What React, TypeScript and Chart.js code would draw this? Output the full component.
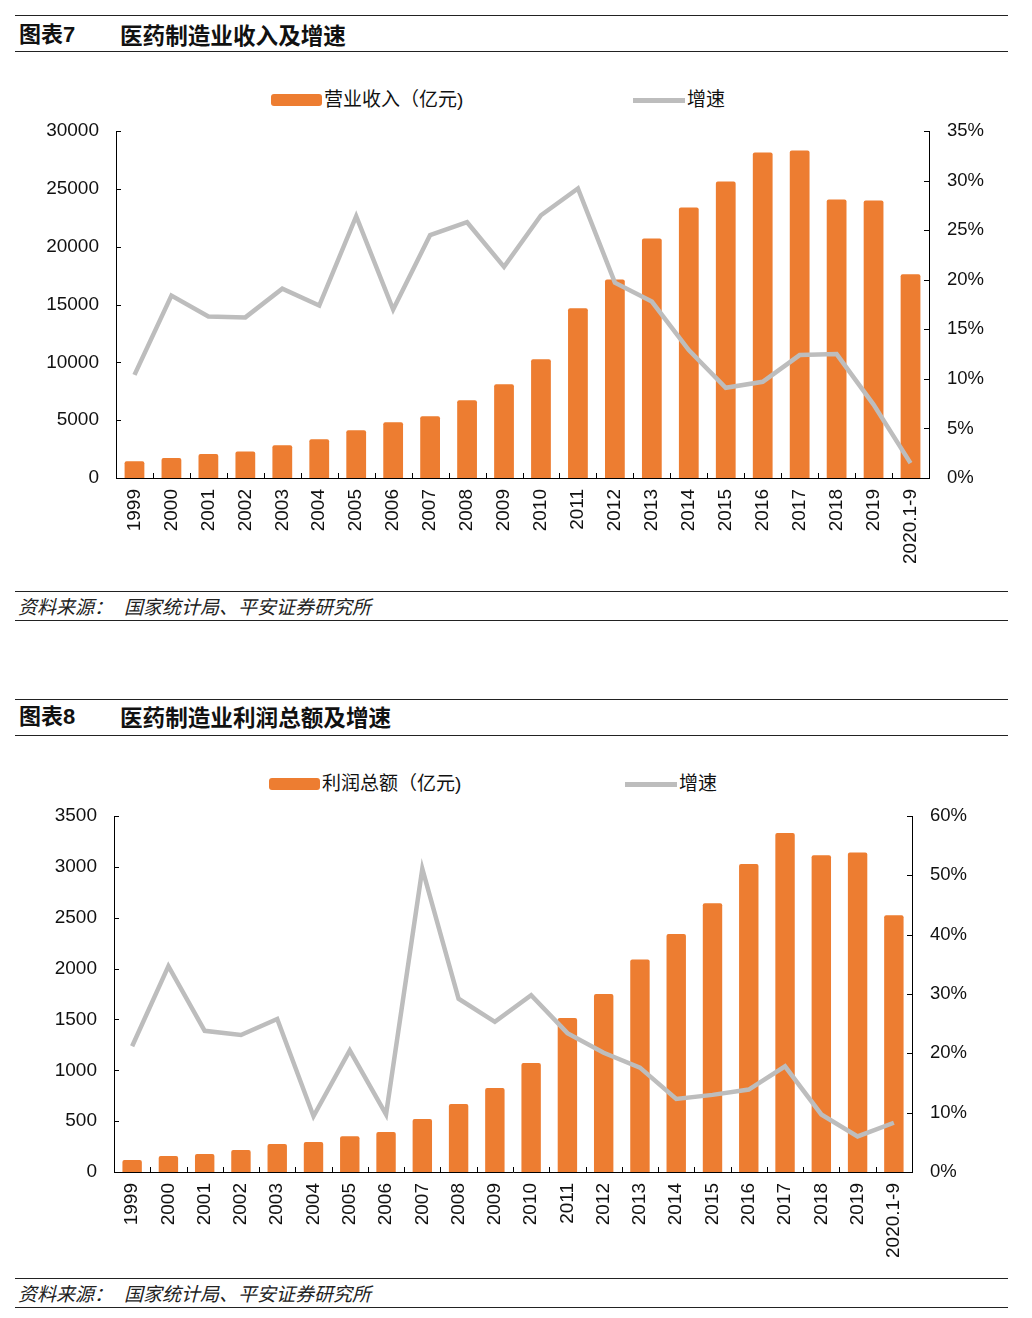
import React, { useEffect, useRef } from 'react';
import { Chart, registerables } from 'chart.js';

Chart.register(...registerables);

const years = ['1999', '2000', '2001', '2002', '2003', '2004', '2005', '2006', '2007', '2008', '2009', '2010', '2011', '2012', '2013', '2014', '2015', '2016', '2017', '2018', '2019', '2020.1-9'];

const revenue = [1440, 1730, 2070, 2300, 2825, 3345, 4120, 4810, 5330, 6715, 8095, 10260, 14665, 17170, 20715, 23395, 25640, 28150, 28320, 24085, 24000, 17605];
const revenueGrowth = [10.4, 18.4, 16.3, 16.2, 19.1, 17.4, 26.4, 17.0, 24.5, 25.8, 21.3, 26.5, 29.2, 19.7, 17.8, 12.9, 9.1, 9.7, 12.4, 12.5, 7.4, 1.5];

const profit = [118, 157, 177, 216, 275, 295, 351, 393, 521, 668, 826, 1071, 1514, 1750, 2090, 2340, 2641, 3028, 3333, 3113, 3142, 2523];
const profitGrowth = [21.2, 34.7, 23.8, 23.1, 25.8, 9.4, 20.5, 9.7, 51.1, 29.2, 25.3, 29.8, 23.4, 20.1, 17.6, 12.3, 13.0, 13.9, 17.8, 9.7, 6.0, 8.3];

const revenueAxis = [0, 30000, 5000];
const revenueGrowthAxis = [0, 35, 5];
const profitAxis = [0, 3500, 500];
const profitGrowthAxis = [0, 60, 10];

const ORANGE = '#ED7D31';
const GRAY = '#BDBDBD';
const NUM_FONT = '"Liberation Sans", Arial, sans-serif';
const CJK_FONT = '"Liberation Sans", "Noto Sans CJK SC", sans-serif';

const inwardTicks = {
  id: 'inwardTicks',
  afterDraw(chart: any) {
    const ctx = chart.ctx;
    const { x, y, y1 } = chart.scales;
    ctx.save();
    ctx.strokeStyle = '#000';
    ctx.lineWidth = 1;
    ctx.beginPath();
    y.ticks.forEach((t: any) => {
      const p = Math.round(y.getPixelForValue(t.value)) + 0.5;
      ctx.moveTo(y.right, p);
      ctx.lineTo(y.right + 5, p);
    });
    y1.ticks.forEach((t: any) => {
      const p = Math.round(y1.getPixelForValue(t.value)) + 0.5;
      ctx.moveTo(y1.left, p);
      ctx.lineTo(y1.left - 5, p);
    });
    const n = x.ticks.length;
    const w = (x.right - x.left) / n;
    for (let i = 1; i < n; i++) {
      const px = Math.round(x.left + i * w) + 0.5;
      ctx.moveTo(px, x.top);
      ctx.lineTo(px, x.top - 5);
    }
    ctx.stroke();
    ctx.restore();
  },
};

function makeConfig(
  bars: number[],
  growth: number[],
  leftAxis: number[],
  rightAxis: number[],
  leftWidth: number,
  rightWidth: number,
  padTop: number,
  padBottom: number,
  barPct: number
): any {
  return {
    type: 'bar',
    data: {
      labels: years,
      datasets: [
        {
          type: 'line',
          data: growth,
          yAxisID: 'y1',
          borderColor: GRAY,
          backgroundColor: GRAY,
          borderWidth: 4.5,
          pointRadius: 0,
          tension: 0,
          order: 0,
        },
        {
          type: 'bar',
          data: bars,
          yAxisID: 'y',
          backgroundColor: ORANGE,
          borderWidth: 0,
          borderRadius: 2,
          borderSkipped: 'bottom',
          barPercentage: barPct,
          categoryPercentage: 1,
          order: 1,
        },
      ],
    },
    options: {
      responsive: false,
      animation: false,
      layout: { padding: { top: padTop, bottom: padBottom, left: 0, right: 0 } },
      plugins: { legend: { display: false }, tooltip: { enabled: false } },
      scales: {
        x: {
          offset: true,
          grid: { display: false, drawTicks: false },
          border: { display: true, color: '#000', width: 1 },
          ticks: {
            autoSkip: false,
            minRotation: 90,
            maxRotation: 90,
            padding: 11,
            color: '#111',
            font: { family: NUM_FONT, size: 19 },
          },
          afterFit: (s: any) => {
            s.height = 95;
          },
        },
        y: {
          position: 'left',
          min: leftAxis[0],
          max: leftAxis[1],
          grid: { display: false, drawTicks: false },
          border: { display: true, color: '#000', width: 1 },
          ticks: {
            stepSize: leftAxis[2],
            padding: 17,
            color: '#111',
            font: { family: NUM_FONT, size: 19 },
            callback: (v: any) => String(v),
          },
          afterFit: (s: any) => {
            s.width = leftWidth;
            s.paddingTop = 0;
            s.paddingBottom = 0;
          },
        },
        y1: {
          position: 'right',
          min: rightAxis[0],
          max: rightAxis[1],
          grid: { display: false, drawTicks: false },
          border: { display: true, color: '#000', width: 1 },
          ticks: {
            stepSize: rightAxis[2],
            padding: 18,
            color: '#111',
            font: { family: NUM_FONT, size: 18.5 },
            callback: (v: any) => v + '%',
          },
          afterFit: (s: any) => {
            s.width = rightWidth;
            s.paddingTop = 0;
            s.paddingBottom = 0;
          },
        },
      },
    },
    plugins: [inwardTicks],
  };
}

function ChartCanvas({ config, width, height, top }: { config: any; width: number; height: number; top: number }) {
  const ref = useRef<HTMLCanvasElement | null>(null);
  useEffect(() => {
    if (!ref.current) return;
    const chart = new Chart(ref.current, config);
    return () => chart.destroy();
  }, [config]);
  return (
    <canvas
      ref={ref}
      width={width}
      height={height}
      style={{ position: 'absolute', left: 0, top, width, height }}
    />
  );
}

const rule = (top: number) => (
  <div style={{ position: 'absolute', left: 15, top, width: 993, height: 1, background: '#222' }} />
);

function Header({ top, num, title }: { top: number; num: string; title: string }) {
  return (
    <>
      <div style={{ position: 'absolute', left: 19, top: top - 16, height: 30, lineHeight: '30px', fontSize: 22, fontWeight: 700, color: '#111', fontFamily: CJK_FONT, whiteSpace: 'nowrap' }}>
        {num}
      </div>
      <div style={{ position: 'absolute', left: 120, top: top - 16, height: 30, lineHeight: '30px', fontSize: 22.6, fontWeight: 700, color: '#111', fontFamily: '"Noto Sans CJK SC", sans-serif', whiteSpace: 'nowrap' }}>
        {title}
      </div>
    </>
  );
}

function Source({ top }: { top: number }) {
  const st: any = { position: 'absolute', top: top - 13, height: 26, lineHeight: '26px', fontSize: 19, fontStyle: 'italic', color: '#222', fontFamily: '"Noto Sans CJK SC", sans-serif', whiteSpace: 'nowrap' };
  return (
    <>
      <div style={{ ...st, left: 18 }}>资料来源：</div>
      <div style={{ ...st, left: 124 }}>国家统计局、平安证券研究所</div>
    </>
  );
}

function Legend({ cy, barX, barText, lineX, lineText }: { cy: number; barX: number; barText: string; lineX: number; lineText: string }) {
  const txt: any = { position: 'absolute', top: cy - 13, height: 26, lineHeight: '26px', fontSize: 19, color: '#111', fontFamily: CJK_FONT, whiteSpace: 'nowrap' };
  return (
    <>
      <div style={{ position: 'absolute', left: barX, top: cy - 6, width: 51, height: 12, borderRadius: 3, background: ORANGE }} />
      <div style={{ ...txt, left: barX + 53 }}>{barText}</div>
      <div style={{ position: 'absolute', left: lineX, top: cy - 2, width: 52, height: 4.5, background: GRAY }} />
      <div style={{ ...txt, left: lineX + 54 }}>{lineText}</div>
    </>
  );
}

const config1 = makeConfig(revenue, revenueGrowth, revenueAxis, revenueGrowthAxis, 116, 103, 11, 7, 0.535);
const config2 = makeConfig(profit, profitGrowth, profitAxis, profitGrowthAxis, 114, 120, 11, 3, 0.535);

export default function App() {
  return (
    <div style={{ position: 'absolute', left: 0, top: 0, width: 1032, height: 1318, background: '#fff', overflow: 'hidden' }}>
      {rule(15)}
      <Header top={36} num="图表7" title="医药制造业收入及增速" />
      {rule(51)}
      <Legend cy={100} barX={271} barText="营业收入（亿元)" lineX={633} lineText="增速" />
      <ChartCanvas config={config1} width={1032} height={460} top={120} />
      {rule(591)}
      <Source top={606} />
      {rule(620)}

      {rule(699)}
      <Header top={718} num="图表8" title="医药制造业利润总额及增速" />
      {rule(735)}
      <Legend cy={784} barX={269} barText="利润总额（亿元)" lineX={625} lineText="增速" />
      <ChartCanvas config={config2} width={1032} height={465} top={805} />
      {rule(1278)}
      <Source top={1293} />
      {rule(1307)}
    </div>
  );
}
